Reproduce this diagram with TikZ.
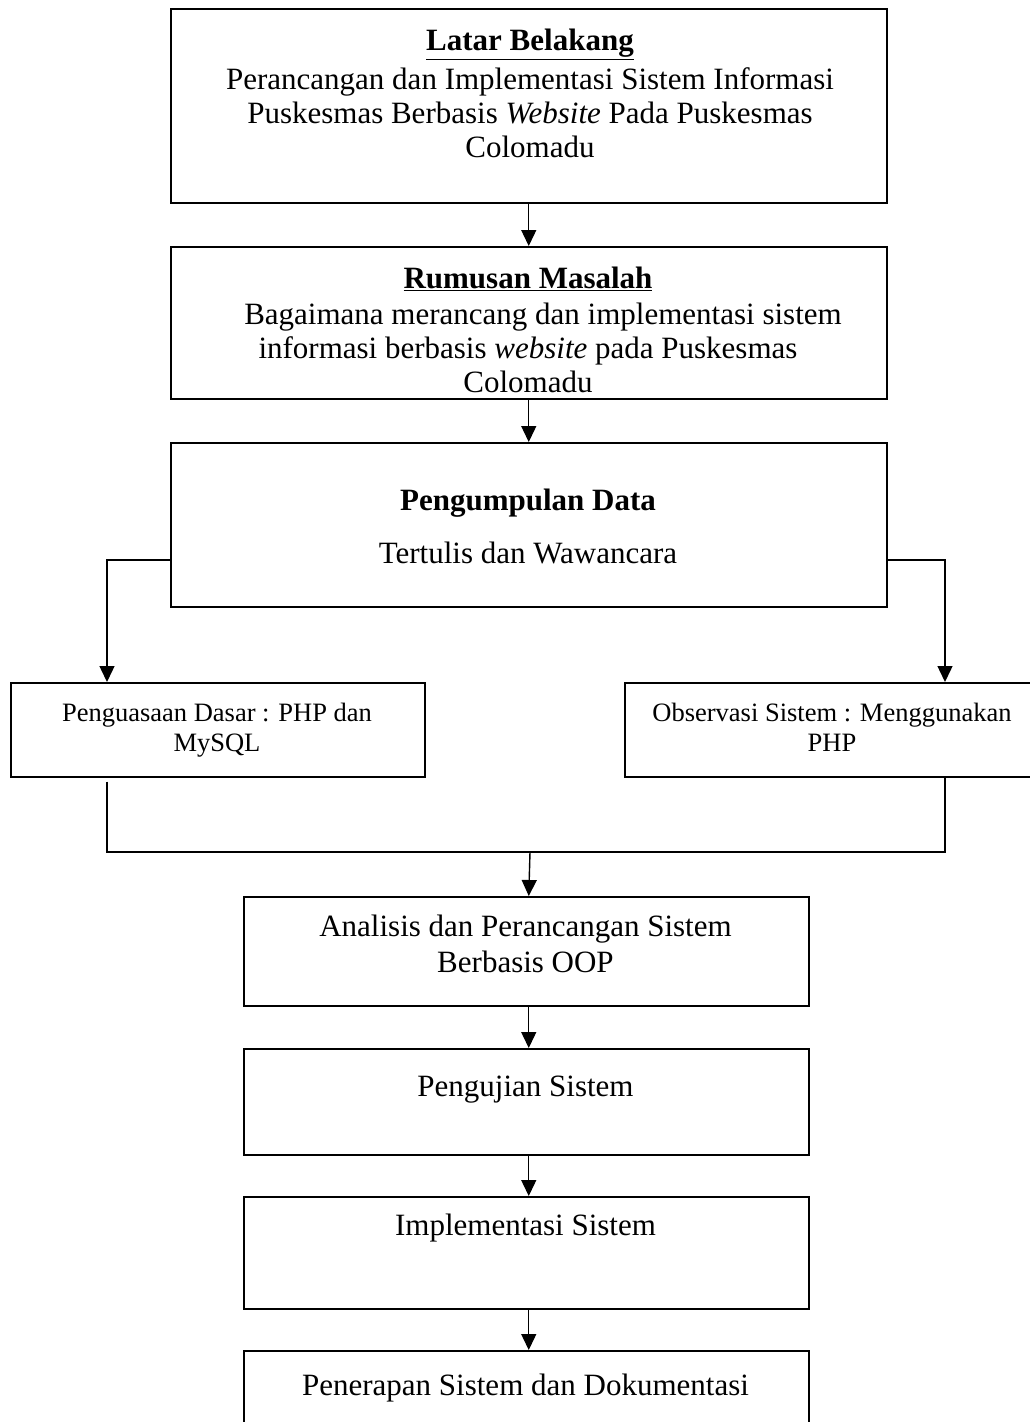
\documentclass[tikz,border=0pt]{standalone}
\usepackage{fontspec}
\setmainfont{Liberation Serif}
\usetikzlibrary{arrows.meta}
\tikzset{
  box/.style={draw, line width=1.5pt, inner sep=0pt, anchor=north west},
  big/.style={font=\fontsize{31}{34}\selectfont, align=center, inner sep=0pt, anchor=north},
  small/.style={font=\fontsize{26.5}{30}\selectfont, align=center, inner sep=0pt, anchor=north},
  arr/.style={line width=1.4pt, -{Triangle[length=16pt,width=15pt]}},
  ln/.style={line width=1.4pt}
}
\begin{document}
\begin{tikzpicture}[x=1pt,y=-1pt]
\useasboundingbox (0,0) rectangle (1030,1422);
\clip (0,0) rectangle (1030,1422);
% boxes
\node[box, minimum width=716pt, minimum height=194pt] (b1) at (170,8) {};
\node[box, minimum width=716pt, minimum height=152pt] (b2) at (170,246) {};
\node[box, minimum width=716pt, minimum height=164pt] (b3) at (170,442) {};
\node[box, minimum width=414pt, minimum height=94pt] (b4) at (10,682) {};
\node[box, minimum width=416pt, minimum height=94pt] (b5) at (624,682) {};
\node[box, minimum width=565pt, minimum height=109pt] (b6) at (243,896) {};
\node[box, minimum width=565pt, minimum height=106pt] (b7) at (243,1048) {};
\node[box, minimum width=565pt, minimum height=112pt] (b8) at (243,1196) {};
\node[box, minimum width=565pt, minimum height=120pt] (b9) at (243,1350) {};
% texts
\node[big] (t1) at (530,29) {\underline{\textbf{Latar Belakang}}\\[5pt]
  Perancangan dan Implementasi Sistem Informasi\\
  Puskesmas Berbasis \textit{Website} Pada Puskesmas\\
  Colomadu};
\node[big] (t2) at (528,267) {\underline{\textbf{Rumusan Masalah}}\\[2pt]
  \hspace*{30pt}Bagaimana merancang dan implementasi sistem\\
  informasi berbasis \textit{website} pada Puskesmas\\
  Colomadu};
\node[big] (t3) at (528,489) {\textbf{Pengumpulan Data}\\[19pt]
  Tertulis dan Wawancara};
\node[small] (t4) at (217,703) {Penguasaan Dasar : PHP dan\\ MySQL};
\node[small] (t5) at (832,703) {Observasi Sistem : Menggunakan\\ PHP};
\node[big] (t6) at (525.5,915) {Analisis dan Perancangan Sistem\\[2pt] Berbasis OOP};
\node[big] (t7) at (525.5,1076) {Pengujian Sistem};
\node[big] (t8) at (525.5,1214) {Implementasi Sistem};
\node[big] (t9) at (525.5,1374) {Penerapan Sistem dan Dokumentasi};
% connectors
\draw[arr] (b1.south) -- (b2.north);
\draw[arr] (b2.south) -- (b3.north);
\coordinate (l1) at (107,560);
\coordinate (r1) at (945,560);
\draw[arr] (b3.west |- l1) -- (l1) -- (b4.north -| l1);
\draw[arr] (b3.east |- r1) -- (r1) -- (b5.north -| r1);
\coordinate (j1) at (107,852);
\coordinate (j2) at (945,852);
\coordinate (m) at (530,852);
\draw[ln] ([yshift=-4pt]b4.south -| j1) -- (j1) -- (j2) -- (b5.south -| j2);
\draw[arr] (m) -- ([xshift=2.5pt]b6.north);
\draw[arr] ([xshift=2.5pt]b6.south) -- ([xshift=2.5pt]b7.north);
\draw[arr] ([xshift=2.5pt]b7.south) -- ([xshift=2.5pt]b8.north);
\draw[arr] ([xshift=2.5pt]b8.south) -- ([xshift=2.5pt]b9.north);
\end{tikzpicture}
\end{document}
